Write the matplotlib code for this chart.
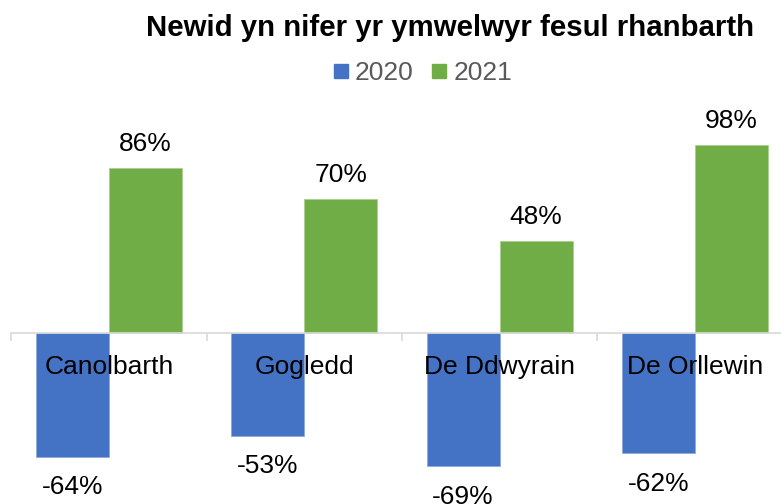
import numpy as np
import matplotlib
matplotlib.use("Agg")
import matplotlib.pyplot as plt
from matplotlib.lines import Line2D

# dados
regions = ["Canolbarth", "Gogledd", "De Ddwyrain", "De Orllewin"]
series_names = ["2020", "2021"]
vals_2020 = [-64, -53, -69, -62]
vals_2021 = [86, 70, 48, 98]
title = "Newid yn nifer yr ymwelwyr fesul rhanbarth"

blue = "#4472C4"
green = "#70AD47"

plt.rcParams["font.family"] = ["Liberation Sans", "DejaVu Sans"]

fig = plt.figure(figsize=(7.81, 5.04), dpi=100)
ax = fig.add_axes([11.4 / 781, 0.0324, 781.2 / 781, 0.7266])

x = np.arange(len(regions))
w = 0.374
b1 = ax.bar(x - w / 2, vals_2020, w, color=blue, edgecolor="#8EA9DB", linewidth=0.6)
b2 = ax.bar(x + w / 2, vals_2021, w, color=green, edgecolor="#A9D08E", linewidth=0.6)

ax.set_xlim(-0.5, 3.5)
ax.set_ylim(-80, 110)

# rótulos de dados
for rect, v in zip(b1, vals_2020):
    ax.annotate(f"{v}%", (rect.get_x() + rect.get_width() / 2, v),
                xytext=(0, -22), textcoords="offset points",
                ha="center", va="center", fontsize=19, color="black")
for rect, v in zip(b2, vals_2021):
    ax.annotate(f"{v}%", (rect.get_x() + rect.get_width() / 2, v),
                xytext=(0, 17.3), textcoords="offset points",
                ha="center", va="center", fontsize=19, color="black")

# eixos
for s in ["top", "right", "left"]:
    ax.spines[s].set_visible(False)
ax.spines["bottom"].set_position(("data", 0))
ax.spines["bottom"].set_color("#D9D9D9")
ax.spines["bottom"].set_linewidth(1.2)
ax.set_yticks([])
ax.set_xticks(x)
ax.set_xticklabels(regions, fontsize=19, color="black")
ax.tick_params(axis="x", which="major", length=0, pad=15.5)
ax.set_xticks(np.arange(-0.5, 4, 1), minor=True)
ax.tick_params(axis="x", which="minor", length=6, width=1.2, color="#D9D9D9")
for lbl in ax.get_xticklabels():
    lbl.set_zorder(5)

# título
fig.text(450 / 781, 1 - 28 / 504, title, ha="center", va="center",
         fontsize=21.2, fontweight="bold", color="black")

# legenda
handles = [Line2D([], [], marker="s", linestyle="none", markersize=10, color=blue),
           Line2D([], [], marker="s", linestyle="none", markersize=10, color=green)]
fig.legend(handles, series_names, loc="center", bbox_to_anchor=(423 / 781, 1 - 73 / 504),
           ncol=2, frameon=False, fontsize=19, labelcolor="#595959",
           handlelength=0.55, handletextpad=0.25, columnspacing=0.7, borderpad=0)

fig.savefig("out.png", dpi=100)
